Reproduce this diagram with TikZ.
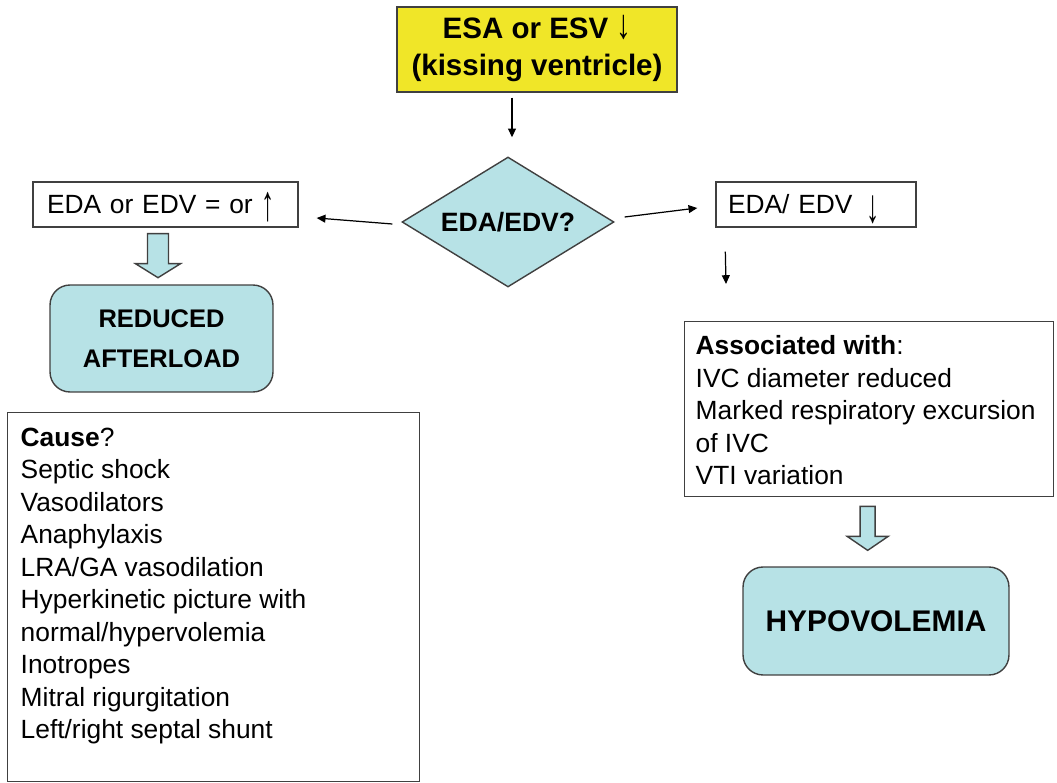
\documentclass[tikz,border=0pt]{standalone}
\usepackage{fontspec}
\setmainfont{Liberation Sans}
\usetikzlibrary{shapes.geometric,arrows.meta,calc}
\definecolor{boxteal}{RGB}{183,226,230}
\definecolor{boxyellow}{RGB}{240,230,40}
\definecolor{edge}{RGB}{64,64,64}
% hollow block arrow: top point, half shaft width, half head width
\newcommand{\fatarrow}[3]{%
  \filldraw[fatarr] (#1) ++(-#2,0) -- ++(0,30) -- ++(#2-#3,0) -- ++(#3,14)
    -- ++(#3,-14) -- ++(#2-#3,0) -- ++(0,-30) -- cycle;}
% stretched arrow glyph: drop, vertical stretch, glyph
\newcommand{\tallarr}[3]{\raisebox{#1}[0pt][0pt]{\scalebox{1}[#2]{#3}}}
\begin{document}
\begin{tikzpicture}[x=0.02cm,y=-0.02cm,
    every node/.style={font=\fontsize{15}{18.5}\selectfont},
    plainbox/.style={draw=edge,line width=0.8pt,fill=white,inner sep=0pt},
    tealbox/.style={draw=edge,line width=0.8pt,fill=boxteal,rounded corners=0.4cm,
      align=center,font=\fontsize{14.5}{22.7}\selectfont\bfseries},
    arr/.style={-{Triangle[length=5pt,width=4.5pt]},line width=0.7pt},
    fatarr/.style={draw=edge,line width=0.8pt,fill=boxteal}]
  \useasboundingbox (0,0) rectangle (1057,783);

  \node[plainbox,fill=boxyellow,minimum width=5.6cm,minimum height=1.7cm,align=center,
    font=\fontsize{16.8}{21}\selectfont\bfseries] (esv) at (537,49.5)
    {ESA or ESV \tallarr{0pt}{1.4}{\mdseries ↓}\\(kissing ventricle)};
  \node[diamond,aspect=1.63,draw=edge,line width=0.8pt,fill=boxteal,inner sep=0pt,
    minimum width=4.24cm,minimum height=2.6cm,
    font=\fontsize{15.1}{18}\selectfont\bfseries] (eda) at (508,222) {EDA/EDV?};

  \node[plainbox,inner xsep=0.28cm,text width=4.74cm,minimum height=0.9cm]
    (up) at (165.5,204.5) {EDA or EDV = or \tallarr{-4pt}{1.9}{↑}};
  \node[plainbox,inner xsep=0.24cm,text width=3.52cm,minimum height=0.9cm]
    (down) at (816,204.5) {EDA/ EDV\hspace{3pt} \tallarr{-5pt}{1.8}{↓}};

  \node[tealbox,minimum width=4.46cm,minimum height=2.14cm] (afterload)
    at (161.5,338.5) {REDUCED\\AFTERLOAD};
  \node[tealbox,minimum width=5.32cm,minimum height=2.16cm,
    font=\fontsize{17}{20}\selectfont\bfseries] (hypo) at (876,621) {HYPOVOLEMIA};

  \node[plainbox,anchor=north west,inner xsep=0.26cm,inner ysep=0.3cm] (cause)
    at (7,412) {\parbox[t][6.78cm][t]{7.72cm}{\raggedright
      \textbf{Cause}?\\
      Septic shock\\
      Vasodilators\\
      Anaphylaxis\\
      LRA/GA vasodilation\\
      Hyperkinetic picture with\\
      normal/hypervolemia\\
      Inotropes\\
      Mitral rigurgitation\\
      Left/right septal shunt}};
  \node[plainbox,anchor=north west,inner xsep=0.22cm,inner ysep=0.28cm] (assoc)
    at (684,321) {\parbox[t][2.94cm][t]{6.94cm}{\raggedright
      \textbf{Associated with}:\\
      IVC diameter reduced\\
      Marked respiratory excursion\\
      of IVC\\
      VTI variation}};

  \draw[arr] ($(esv.south -| eda.north)+(4,5)$) -- ($(eda.north)+(4,-19)$);
  \draw[arr] ($(eda.west)+(-9,2)$) -- ($(up.east)+(18,13.5)$);
  \draw[arr] ($(eda.east)+(10,-5)$) -- ($(down.west)+(-18,3.5)$);
  \draw[arr] ($(down.south west)+(10,24)$) -- ($(assoc.north west)+(42,-37)$);

  \fatarrow{$(up.south)+(-7.5,6)$}{10.5}{22.5}
  \fatarrow{$(assoc.south)+(-1.5,9)$}{7.5}{20.5}
\end{tikzpicture}
\end{document}
